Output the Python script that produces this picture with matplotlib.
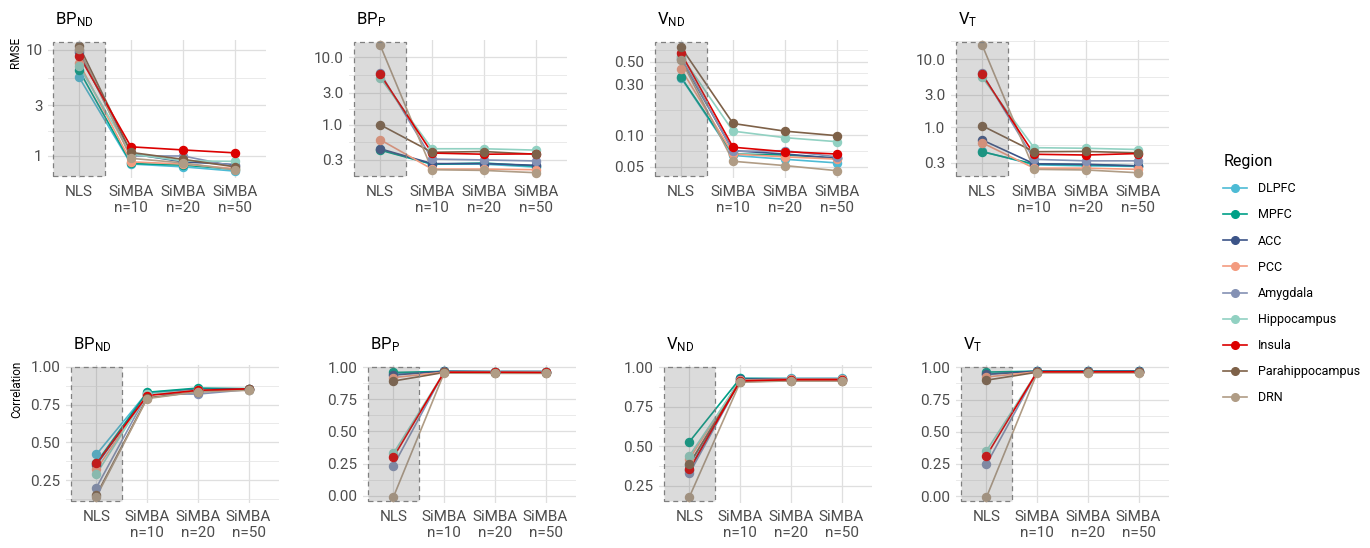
import matplotlib
matplotlib.use("Agg")
import matplotlib.pyplot as plt
import matplotlib.transforms as mtransforms
from matplotlib.lines import Line2D
from matplotlib.patches import Rectangle
from matplotlib.ticker import FixedLocator, FixedFormatter, NullFormatter
import numpy as np

plt.rcParams['font.family'] = ['Roboto', 'DejaVu Sans']

W, H = 1370, 548

methods = ["NLS", "SiMBA\nn=10", "SiMBA\nn=20", "SiMBA\nn=50"]
regions = ["DLPFC", "MPFC", "ACC", "PCC", "Amygdala", "Hippocampus",
           "Insula", "Parahippocampus", "DRN"]
region_colors = ["#4DBBD5", "#00A087", "#3C5488", "#F39B7F", "#8491B4",
                 "#91D1C2", "#DC0000", "#7E6148", "#B09C85"]

# RMSE, one list per region: NLS, SiMBA n=10, n=20, n=50
rmse_bpnd = {
    "DLPFC": [5.5, 0.84, 0.79, 0.72],
    "MPFC": [6.4, 0.85, 0.82, 0.75],
    "ACC": [9.5, 1.05, 0.88, 0.83],
    "PCC": [7.5, 0.88, 0.84, 0.76],
    "Amygdala": [10.0, 1.0, 1.0, 0.80],
    "Hippocampus": [7.0, 1.04, 0.90, 0.89],
    "Insula": [8.8, 1.22, 1.14, 1.07],
    "Parahippocampus": [10.9, 1.08, 0.93, 0.79],
    "DRN": [10.2, 0.95, 0.86, 0.74],
}
rmse_bpp = {
    "DLPFC": [0.43, 0.26, 0.26, 0.235],
    "MPFC": [0.42, 0.26, 0.27, 0.244],
    "ACC": [0.44, 0.265, 0.265, 0.25],
    "PCC": [0.60, 0.22, 0.22, 0.215],
    "Amygdala": [5.9, 0.31, 0.30, 0.29],
    "Hippocampus": [5.0, 0.44, 0.44, 0.42],
    "Insula": [5.6, 0.38, 0.365, 0.37],
    "Parahippocampus": [1.0, 0.39, 0.40, 0.365],
    "DRN": [15.2, 0.215, 0.21, 0.194],
}
rmse_vnd = {
    "DLPFC": [0.35, 0.064, 0.0588, 0.0543],
    "MPFC": [0.355, 0.066, 0.0646, 0.0605],
    "ACC": [0.53, 0.071, 0.066, 0.060],
    "PCC": [0.424, 0.066, 0.062, 0.059],
    "Amygdala": [0.55, 0.070, 0.071, 0.062],
    "Hippocampus": [0.57, 0.109, 0.0945, 0.0865],
    "Insula": [0.60, 0.0766, 0.0695, 0.066],
    "Parahippocampus": [0.685, 0.129, 0.109, 0.0987],
    "DRN": [0.52, 0.0563, 0.0512, 0.0458],
}
rmse_vt = {
    "DLPFC": [0.44, 0.28, 0.27, 0.265],
    "MPFC": [0.436, 0.287, 0.28, 0.27],
    "ACC": [0.65, 0.29, 0.285, 0.27],
    "PCC": [0.59, 0.25, 0.25, 0.24],
    "Amygdala": [6.2, 0.337, 0.32, 0.32],
    "Hippocampus": [5.43, 0.50, 0.49, 0.47],
    "Insula": [6.0, 0.40, 0.39, 0.41],
    "Parahippocampus": [1.05, 0.436, 0.44, 0.42],
    "DRN": [16.2, 0.24, 0.235, 0.214],
}

# correlation with ground truth
corr_bpnd = {
    "DLPFC": [0.42, 0.83, 0.855, 0.855],
    "MPFC": [0.365, 0.832, 0.86, 0.856],
    "ACC": [0.35, 0.82, 0.85, 0.855],
    "PCC": [0.32, 0.815, 0.845, 0.85],
    "Amygdala": [0.20, 0.82, 0.82, 0.85],
    "Hippocampus": [0.29, 0.82, 0.845, 0.85],
    "Insula": [0.36, 0.81, 0.845, 0.855],
    "Parahippocampus": [0.15, 0.795, 0.835, 0.852],
    "DRN": [0.14, 0.79, 0.835, 0.845],
}
corr_bpp = {
    "DLPFC": [0.95, 0.968, 0.966, 0.966],
    "MPFC": [0.96, 0.968, 0.966, 0.966],
    "ACC": [0.94, 0.969, 0.967, 0.967],
    "PCC": [0.92, 0.962, 0.96, 0.96],
    "Amygdala": [0.234, 0.965, 0.965, 0.965],
    "Hippocampus": [0.33, 0.962, 0.962, 0.962],
    "Insula": [0.30, 0.962, 0.962, 0.96],
    "Parahippocampus": [0.893, 0.96, 0.958, 0.958],
    "DRN": [-0.01, 0.955, 0.953, 0.953],
}
corr_vnd = {
    "DLPFC": [0.38, 0.93, 0.93, 0.93],
    "MPFC": [0.529, 0.93, 0.928, 0.928],
    "ACC": [0.35, 0.925, 0.928, 0.928],
    "PCC": [0.42, 0.92, 0.925, 0.925],
    "Amygdala": [0.329, 0.915, 0.922, 0.92],
    "Hippocampus": [0.44, 0.915, 0.92, 0.92],
    "Insula": [0.354, 0.915, 0.922, 0.922],
    "Parahippocampus": [0.39, 0.91, 0.915, 0.915],
    "DRN": [0.18, 0.905, 0.915, 0.915],
}
corr_vt = {
    "DLPFC": [0.95, 0.97, 0.97, 0.97],
    "MPFC": [0.963, 0.97, 0.97, 0.97],
    "ACC": [0.945, 0.97, 0.97, 0.97],
    "PCC": [0.925, 0.965, 0.965, 0.965],
    "Amygdala": [0.246, 0.965, 0.965, 0.965],
    "Hippocampus": [0.35, 0.965, 0.965, 0.965],
    "Insula": [0.313, 0.965, 0.965, 0.965],
    "Parahippocampus": [0.90, 0.962, 0.962, 0.962],
    "DRN": [-0.01, 0.957, 0.957, 0.957],
}

titles = [r"$\mathregular{BP_{ND}}$", r"$\mathregular{BP_{P}}$",
          r"$\mathregular{V_{ND}}$", r"$\mathregular{V_{T}}$"]

log_ticks_a = [1, 3, 10]
log_labels_a = ["1", "3", "10"]
log_ticks_b = [0.3, 1, 3, 10]
log_labels_b = ["0.3", "1.0", "3.0", "10.0"]
log_ticks_c = [0.05, 0.1, 0.3, 0.5]
log_labels_c = ["0.05", "0.10", "0.30", "0.50"]
corr_ticks = [0.0, 0.25, 0.5, 0.75, 1.0]
corr_labels = ["0.00", "0.25", "0.50", "0.75", "1.00"]

# (data, ylim, ticks, labels, left px)
top_row = [
    (rmse_bpnd, (0.62, 12.4), log_ticks_a, log_labels_a, 48),
    (rmse_bpp, (0.162, 18.1), log_ticks_b, log_labels_b, 349),
    (rmse_vnd, (0.039, 0.805), log_ticks_c, log_labels_c, 650),
    (rmse_vt, (0.179, 19.2), log_ticks_b, log_labels_b, 951),
]
bottom_row = [
    (corr_bpnd, (0.0975, 1.013), 66),
    (corr_bpp, (-0.057, 1.018), 363),
    (corr_vnd, (0.141, 1.015), 659),
    (corr_vt, (-0.054, 1.018), 956),
]

fig = plt.figure(figsize=(W / 100, H / 100), dpi=100)


def px_box(left, top, width, height):
    return [left / W, 1 - (top + height) / H, width / W, height / H]


def log_minors(ticks):
    # geometric midpoints between breaks, extended one step each side
    lt = np.log10(ticks)
    ext = np.concatenate([[2 * lt[0] - lt[1]], lt, [2 * lt[-1] - lt[-2]]])
    return list(10 ** ((ext[:-1] + ext[1:]) / 2))


def draw_panel(ax, data, title, left, top):
    x = np.arange(len(methods))
    # lines first, then all points on top of them
    for region, color in zip(regions, region_colors):
        z = 3.5 if region == "Insula" else 3
        ax.plot(x, data[region], color=color, lw=1.2, zorder=z)
    for region, color in zip(regions, region_colors):
        ax.plot(x, data[region], ls="none", color=color, marker="o",
                ms=5.8, zorder=4)
    # translucent box over the NLS column
    trans = mtransforms.blended_transform_factory(ax.transData, ax.transAxes)
    ax.add_patch(Rectangle((-0.5, 0.015), 1.0, 0.97, transform=trans,
                           facecolor=(0.45, 0.45, 0.45, 0.25),
                           edgecolor="#808080", linestyle=(0, (4, 3)),
                           linewidth=0.9, zorder=5))
    ax.set_xlim(-0.6, 3.6)
    ax.set_xticks(x)
    ax.set_xticklabels(methods, linespacing=1.2)
    for s in ax.spines.values():
        s.set_visible(False)
    ax.tick_params(which="both", length=0, labelsize=11,
                   labelcolor="#4D4D4D")
    ax.tick_params(axis="x", pad=5)
    ax.tick_params(axis="y", pad=4)
    ax.grid(which="major", color="#dfdfdf", lw=0.9, zorder=0)
    ax.grid(which="minor", axis="y", color="#e6e6e6", lw=0.6, zorder=0)
    ax.set_axisbelow(True)
    fig.text((left + 7) / W, 1 - (top - 16) / H, title, fontsize=12,
             ha="left", va="baseline")


for (data, ylim, ticks, labels, left), title in zip(top_row, titles):
    ax = fig.add_axes(px_box(left, 40, 218, 138))
    ax.set_yscale("log")
    ax.set_ylim(*ylim)
    ax.yaxis.set_major_locator(FixedLocator(ticks))
    ax.yaxis.set_major_formatter(FixedFormatter(labels))
    ax.yaxis.set_minor_locator(FixedLocator(log_minors(ticks)))
    ax.yaxis.set_minor_formatter(NullFormatter())
    draw_panel(ax, data, title, left, 40)

for (data, ylim, left), title in zip(bottom_row, titles):
    ax = fig.add_axes(px_box(left, 365, 213, 138))
    ax.set_ylim(*ylim)
    ax.yaxis.set_major_locator(FixedLocator(corr_ticks))
    ax.yaxis.set_major_formatter(FixedFormatter(corr_labels))
    ax.yaxis.set_minor_locator(FixedLocator(list(np.arange(-0.125, 1.1, 0.25))))
    draw_panel(ax, data, title, left, 365)

fig.text(15 / W, 1 - 52 / H, "RMSE", rotation=90, fontsize=8.5,
         ha="center", va="center")
fig.text(17 / W, 1 - 389 / H, "Correlation", rotation=90, fontsize=8.5,
         ha="center", va="center")

handles = [Line2D([], [], color=c, lw=1.2, marker="o", ms=5.5)
           for c in region_colors]
fig.legend(handles, regions, title="Region", loc="upper left",
           bbox_to_anchor=(1212 / W, 1 - 143 / H), frameon=False,
           fontsize=9, title_fontsize=11.5, handlelength=1.9,
           handletextpad=0.9, labelspacing=1.05, alignment="left")

fig.savefig("out.png", dpi=100)
